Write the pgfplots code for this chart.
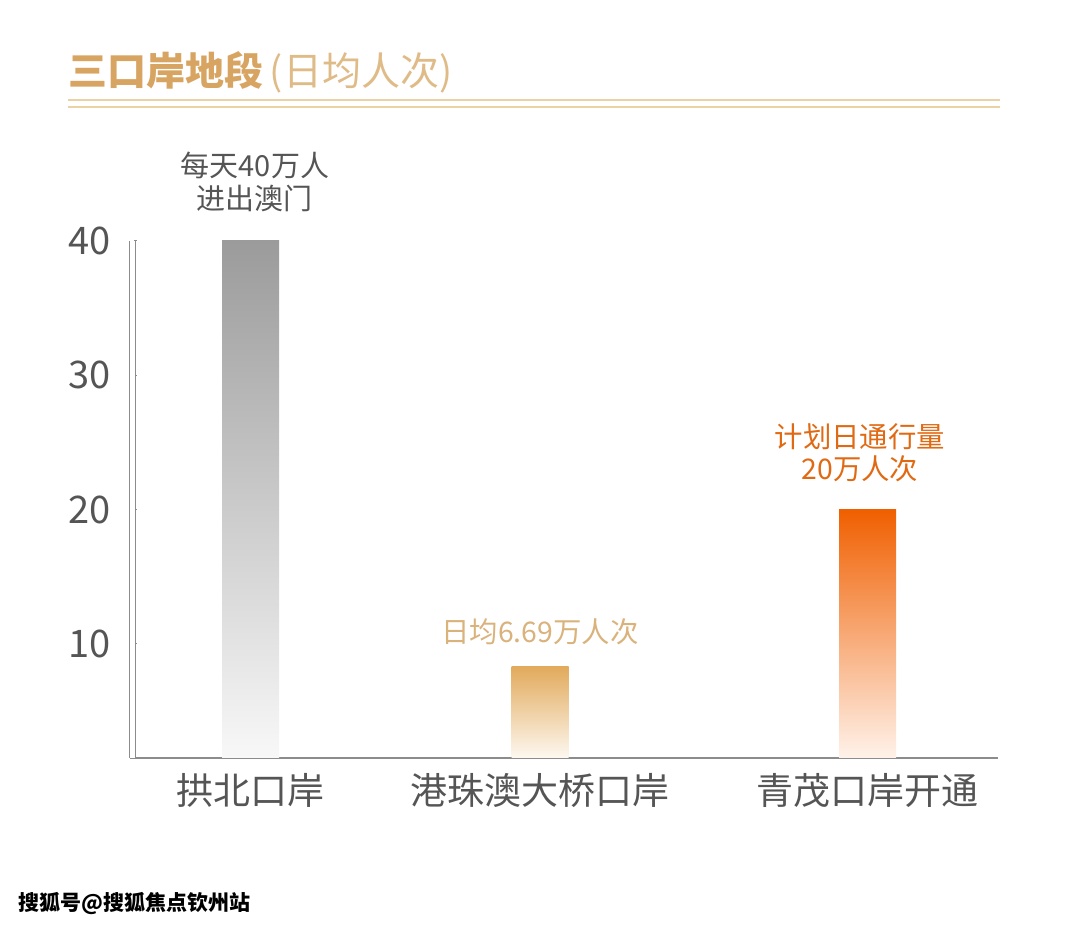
\documentclass[border=0pt]{standalone}
\usepackage{pgfplots}
\pgfplotsset{compat=1.18}
\usepackage{fontspec}
\setmainfont{Noto Sans CJK SC}
\definecolor{axgray}{HTML}{8C8C8C}
\definecolor{txtgray}{HTML}{555555}
\definecolor{bAtop}{HTML}{9B9B9B}
\definecolor{bAbot}{HTML}{F8F8F8}
\definecolor{bBtop}{HTML}{E2AA5C}
\definecolor{bBbot}{HTML}{FDF8F0}
\definecolor{bCtop}{HTML}{F05F00}
\definecolor{bCbot}{HTML}{FFF2EA}
\definecolor{titlebold}{HTML}{D8A462}
\definecolor{titlelight}{HTML}{DFBB88}
\definecolor{rulecol}{HTML}{EBD2A4}
\definecolor{annB}{HTML}{D9B27C}
\definecolor{annC}{HTML}{E06A14}
\begin{document}
\begin{tikzpicture}
\path[use as bounding box] (0,0) rectangle (540bp,463.5bp);
\begin{axis}[at={(65bp,84.5bp)}, anchor=south west, scale only axis,
  width=434bp, height=258.5bp,
  xmin=130, xmax=998, ymin=1.5, ymax=40,
  axis x line*=bottom, axis y line*=left,
  x axis line style={-, draw=axgray, line width=1bp},
  y axis line style={-, draw=axgray, line width=0.55bp, double=white, double distance=2.1bp, xshift=1.2bp},
  xtick={250.5,540,867.5},
  xticklabels={拱北口岸,港珠澳大桥口岸,青茂口岸开通},
  xtick style={draw=none},
  ytick={10,20,30,40},
  ytick style={draw=axgray, line width=0.5bp, xshift=2.2bp},
  major tick length=1.4bp, tick align=inside,
  /pgf/number format/assume math mode=true,
  xticklabel style={font=\fontsize{18.5bp}{20bp}\selectfont, text=txtgray, yshift=-4bp},
  yticklabel style={font=\fontsize{19bp}{20bp}\selectfont, text=txtgray, xshift=-6bp},
  clip=true,
]
\addplot[ybar, bar shift=0pt, bar width=28.5bp, draw=none, top color=bAtop, bottom color=bAbot] coordinates {(250.5,40)};
\addplot[ybar, bar shift=0pt, bar width=28.5bp, draw=none, top color=bBtop, bottom color=bBbot] coordinates {(540,8.29)};
\addplot[ybar, bar shift=0pt, bar width=28.5bp, draw=none, top color=bCtop, bottom color=bCbot] coordinates {(867.5,20)};
\end{axis}
\begin{scope}[x=0.5bp, y=-0.5bp, yshift=463.5bp]
  \node[anchor=west, inner sep=0pt] at (68,72) {\fontsize{19.5bp}{22bp}\selectfont\bfseries\color{titlebold}三口岸地段\,\mdseries\color{titlelight}(日均人次)};
  \draw[rulecol, line width=1.1bp] (68,100) -- (1000,100);
  \draw[rulecol, line width=0.9bp] (68,107) -- (1000,107);
  \node[align=center, text=txtgray, font=\fontsize{14.5bp}{16.5bp}\selectfont] at (255,182) {每天40万人\\进出澳门};
  \node[text=annB, font=\fontsize{14.2bp}{16bp}\selectfont] at (540,632) {日均6.69万人次};
  \node[align=center, text=annC, font=\fontsize{14.2bp}{16bp}\selectfont] at (860,453) {计划日通行量\\20万人次};
  \node[anchor=west, inner sep=0pt, font=\fontsize{10.5bp}{12bp}\selectfont\bfseries] at (18,904) {搜狐号@搜狐焦点钦州站};
\end{scope}
\end{tikzpicture}
\end{document}
